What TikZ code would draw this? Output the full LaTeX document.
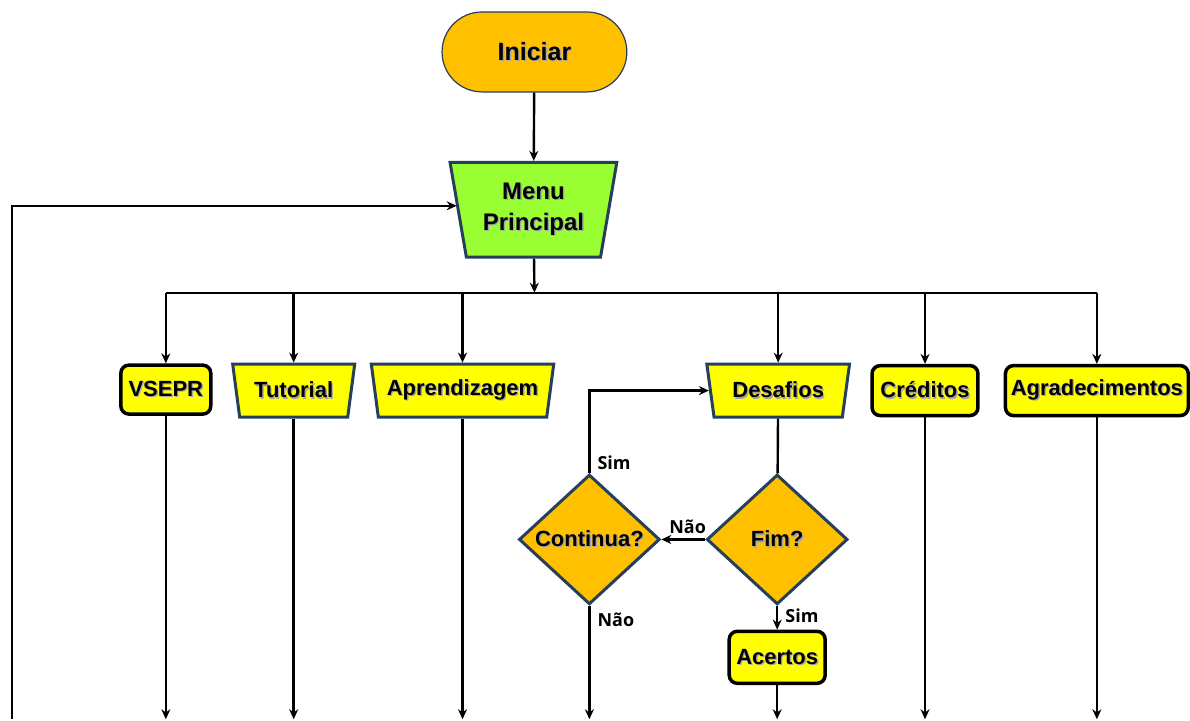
\documentclass[tikz,border=0pt]{standalone}
\usepackage{fontspec}
\setmainfont{Liberation Sans}
\newfontfamily\lblfont{Open Sans}
\usepackage{tikz}
\usetikzlibrary{arrows.meta,shapes.geometric}

\definecolor{boxorange}{RGB}{255,192,0}
\definecolor{boxyellow}{RGB}{255,255,0}
\definecolor{menugreen}{RGB}{153,255,51}
\definecolor{slate}{RGB}{38,64,92}

% bold text with a soft grey drop shadow
\newcommand{\shad}[1]{\makebox[0pt][l]{\hspace{1.4pt}\raisebox{-1.4pt}{\color{black!35}#1}}#1}

\begin{document}
\begin{tikzpicture}[x=1pt,y=-1pt,>={Stealth[length=10pt,width=9pt]},line width=2.4pt,
  every node/.style={font=\fontsize{22}{25}\selectfont\bfseries,inner sep=2pt},
  startnode/.style={rectangle,rounded corners=40pt,fill=boxorange,draw=slate,
    line width=1.2pt,minimum width=185pt,minimum height=80pt},
  tbox/.style={trapezium,shape border rotate=180,trapezium stretches=true,
    trapezium angle=76,fill=boxyellow,draw=slate,line width=3pt,minimum height=53pt},
  rbox/.style={rectangle,rounded corners=8pt,fill=boxyellow,draw=black,
    line width=3.5pt,minimum height=50pt},
  decision/.style={diamond,fill=boxorange,draw=slate,line width=3pt,inner sep=0pt,
    minimum width=141pt,minimum height=130pt},
  lbl/.style={font=\lblfont\fontsize{18}{21}\selectfont\bfseries,inner sep=1pt}]

  \path[fill=white] (0,0) rectangle (1190,720);

  \node[startnode,font=\fontsize{25}{28}\selectfont\bfseries] (ini) at (535,52) {\shad{Iniciar}};
  \node[tbox,trapezium angle=77.5,fill=menugreen,minimum width=167pt,minimum height=95pt,
    align=center,font=\fontsize{24}{31}\selectfont\bfseries] (menu) at (534,210)
    {\shad{Menu}\\\shad{Principal}};

  \node[rbox,minimum width=90pt,minimum height=49pt] (vsepr) at (166,390) {\shad{VSEPR}};
  \node[tbox,minimum width=123pt] (tut) at (294,391) {\shad{Tutorial}};
  \node[tbox,minimum width=183pt] (aprend) at (463,391) {\shad{Aprendizagem}};
  \node[tbox,minimum width=143pt] (desaf) at (779,391) {\shad{Desafios}};
  \node[rbox,minimum width=106pt] (cred) at (926,391) {\shad{Créditos}};
  \node[rbox,minimum width=183pt] (agrad) at (1098,391) {\shad{Agradecimentos}};

  \node[decision,label={center:\shad{Fim?}}] (fim) at (778,540) {};
  \node[decision,label={center:\shad{Continua?}}] (cont) at (590,540) {};
  \node[rbox,minimum width=96pt,minimum height=52pt] (acert) at (778,658) {\shad{Acertos}};

  \coordinate (bus) at (535,293);
  \coordinate (bot) at (0,720);
  \coordinate (fb) at (12,720);

  \draw[->] (ini) -- (menu);
  \draw[->] (menu) -- (bus);
  \draw (vsepr |- bus) -- (agrad |- bus);
  \foreach \n in {vsepr,tut,aprend,desaf,cred,agrad}
    \draw[->] (\n |- bus) -- (\n);
  \foreach \n in {vsepr,tut,aprend,cont,acert,cred,agrad}
    \draw[->] (\n) -- (\n |- bot);
  \draw[->] (fb) |- ([yshift=4pt]menu.west);

  \draw (desaf) -- (fim);
  \draw[->] (fim) -- node[lbl,above=4pt,pos=0.4] {Não} (cont);
  \draw[->] (cont.north) node[lbl,anchor=south west,xshift=6pt,yshift=1pt] {Sim} |- (desaf.west);
  \path (cont.south) node[lbl,anchor=north west,xshift=6pt,yshift=-5pt] {Não};
  \draw[->] (fim) -- (acert) node[lbl,pos=0,anchor=north west,xshift=6pt,yshift=-1pt] {Sim};
\end{tikzpicture}
\end{document}
